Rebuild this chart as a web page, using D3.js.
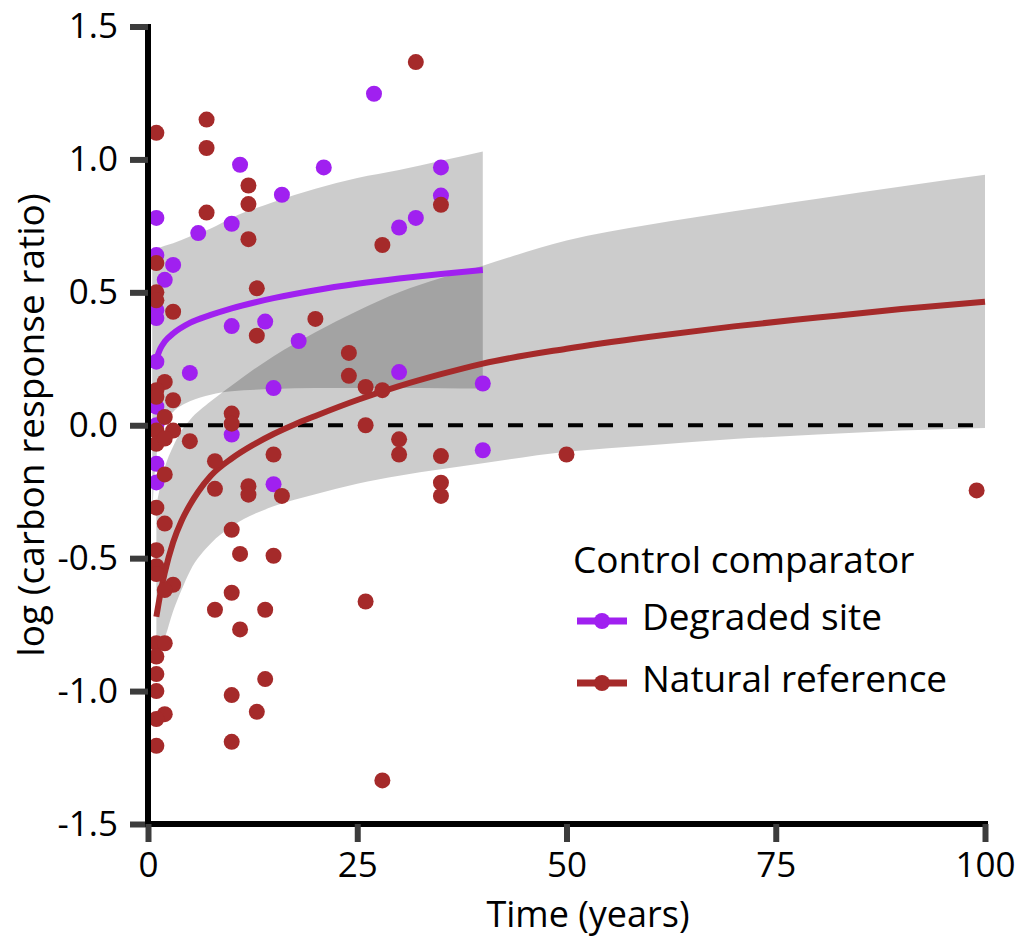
<!DOCTYPE html>
<html><head><meta charset="utf-8">
<script src="https://cdn.jsdelivr.net/npm/d3@7"></script>
<style>
body{margin:0;background:#fff;}
text{font-family:"Open Sans","Noto Sans",sans-serif;fill:#000;}
</style>
</head><body>
<svg id="chart" width="1022" height="937"></svg>
<script>
// ---------- data ----------
const xTicks = [0, 25, 50, 75, 100];
const xTickLabels = ["0", "25", "50", "75", "100"];
const yTicks = [-1.5, -1.0, -0.5, 0.0, 0.5, 1.0, 1.5];
const yTickLabels = ["-1.5", "-1.0", "-0.5", "0.0", "0.5", "1.0", "1.5"];

const seriesNames = ["Degraded site", "Natural reference"];
const seriesColors = ["#A020F0", "#A52A2A"];

// Degraded site observations [years, log ratio]
const degradedPoints = [
  [27, 1.247], [11, 0.98], [21, 0.97], [35, 0.97], [35, 0.864], [32, 0.78], [30, 0.744],
  [16, 0.867], [10, 0.758], [6, 0.723], [1, 0.78], [1, 0.64], [3, 0.603], [2, 0.547],
  [1, 0.433], [1, 0.403], [1, 0.239], [5, 0.197], [10, 0.373], [14, 0.39], [18, 0.317],
  [15, 0.14], [30, 0.2], [40, 0.157], [40, -0.094], [10, -0.035], [15, -0.222],
  [1, -0.145], [1, -0.215], [1, 0.07], [1, 0.0]
];
// Natural reference observations [years, log ratio]
const naturalPoints = [
  [32, 1.366], [7, 1.15], [7, 1.043], [1, 1.1], [12, 0.902], [12, 0.832], [7, 0.8], [12, 0.7],
  [35, 0.829], [28, 0.678], [13, 0.515], [1, 0.61], [1, 0.5], [1, 0.47], [3, 0.427], [13, 0.337],
  [20, 0.4], [24, 0.272], [24, 0.186], [26, 0.144], [28, 0.132], [26, 0.0], [30, -0.053],
  [30, -0.11], [35, -0.116], [35, -0.216], [35, -0.266], [26, -0.663], [28, -1.336],
  [50, -0.11], [99, -0.245],
  [10, 0.044], [10, 0.006], [5, -0.06], [15, -0.11], [8, -0.135], [8, -0.239], [12, -0.229],
  [12, -0.261], [16, -0.266], [10, -0.393], [11, -0.484], [15, -0.491], [10, -0.63], [8, -0.694],
  [14, -0.694], [11, -0.768], [14, -0.955], [10, -1.015], [13, -1.078], [10, -1.191],
  [2, 0.163], [1, 0.132], [3, 0.094], [1, 0.107], [2, 0.031], [1, -0.02], [1, -0.07], [3, -0.02],
  [2, -0.05], [2, -0.185], [1, -0.31], [2, -0.37], [1, -0.47], [1, -0.53], [1, -0.56],
  [3, -0.6], [2, -0.62], [1, -0.82], [2, -0.82], [1, -0.87], [1, -0.936], [1, -1.0],
  [2, -1.087], [1, -1.105], [1, -1.206]
];

// Fitted curves
const degradedFitX = [0.85, 1.5, 2, 3, 5, 7.5, 10, 15, 20, 25, 30, 35, 40];
const degradedFitY = [0.235, 0.29, 0.315, 0.345, 0.385, 0.415, 0.44, 0.478, 0.508, 0.532, 0.552, 0.569, 0.584];
const degradedBandX = [0.5, 0.75, 1, 1.5, 2, 3, 5, 7.5, 10, 15, 20, 25, 30, 35, 40];
const degradedUpper = [0.655, 0.66, 0.665, 0.67, 0.675, 0.685, 0.71, 0.74, 0.78, 0.84, 0.89, 0.93, 0.96, 0.995, 1.03];
const degradedLower = [-0.33, -0.2, -0.12, -0.03, 0.01, 0.05, 0.09, 0.115, 0.128, 0.136, 0.14, 0.14, 0.14, 0.139, 0.138];

const naturalFitX = [1, 1.5, 2, 3, 4, 5, 6, 7.5, 10, 12.5, 15, 17.5, 20, 25, 30, 35, 40, 50, 60, 70, 80, 90, 100];
const naturalFitY = [-0.72, -0.63, -0.555, -0.44, -0.36, -0.3, -0.25, -0.19, -0.125, -0.075, -0.033, 0.003, 0.035, 0.095, 0.147, 0.192, 0.232, 0.288, 0.333, 0.372, 0.405, 0.437, 0.465];
const naturalBandX = [1, 2, 3, 4, 5, 7.5, 10, 15, 20, 25, 30, 40, 50, 60, 70, 80, 90, 100];
const naturalUpper = [-0.3, -0.16, -0.08, -0.02, 0.02, 0.09, 0.15, 0.26, 0.35, 0.43, 0.5, 0.6, 0.695, 0.755, 0.805, 0.852, 0.898, 0.942];
const naturalLower = [-0.86, -0.8, -0.7, -0.62, -0.55, -0.445, -0.38, -0.305, -0.26, -0.22, -0.19, -0.143, -0.1, -0.075, -0.052, -0.035, -0.02, -0.01];

// ---------- drawing ----------
const svg = d3.select("#chart");
const x = d3.scaleLinear().domain([0, 100]).range([148, 985]);
const y = d3.scaleLinear().domain([-1.5, 1.5]).range([824, 26.5]);

const area = d3.area().x(d => x(d[0])).y0(d => y(d[1])).y1(d => y(d[2])).curve(d3.curveMonotoneX);
const line = d3.line().x(d => x(d[0])).y(d => y(d[1])).curve(d3.curveMonotoneX);

const bands = [
  degradedBandX.map((v, i) => [v, degradedLower[i], degradedUpper[i]]),
  naturalBandX.map((v, i) => [v, naturalLower[i], naturalUpper[i]])
];
svg.append("g").selectAll("path").data(bands).join("path")
  .attr("d", area).attr("fill", "#000").attr("fill-opacity", 0.2);

// zero reference line
svg.append("line")
  .attr("x1", x(0)).attr("x2", x(100)).attr("y1", y(0)).attr("y2", y(0))
  .attr("stroke", "#000").attr("stroke-width", 4).attr("stroke-dasharray", "15,15");

// fitted lines
const fits = [
  degradedFitX.map((v, i) => [v, degradedFitY[i]]),
  naturalFitX.map((v, i) => [v, naturalFitY[i]])
];
svg.append("g").selectAll("path").data(fits).join("path")
  .attr("d", line).attr("fill", "none")
  .attr("stroke", (d, i) => seriesColors[i]).attr("stroke-width", 6);

// points
[degradedPoints, naturalPoints].forEach((pts, i) => {
  svg.append("g").selectAll("circle").data(pts).join("circle")
    .attr("cx", d => x(d[0])).attr("cy", d => y(d[1])).attr("r", 8)
    .attr("fill", seriesColors[i]);
});

// axes
const yAxis = d3.axisLeft(y).tickValues(yTicks).tickFormat((d, i) => yTickLabels[i])
  .tickSize(18).tickSizeOuter(0).tickPadding(12);
const xAxis = d3.axisBottom(x).tickValues(xTicks).tickFormat((d, i) => xTickLabels[i])
  .tickSize(18).tickSizeOuter(0).tickPadding(10);

const gy = svg.append("g").attr("transform", "translate(148,0)").call(yAxis);
const gx = svg.append("g").attr("transform", "translate(0,824)").call(xAxis);
[gx, gy].forEach(g => {
  g.select(".domain").attr("stroke", "#000").attr("stroke-width", 6);
  g.selectAll(".tick line").attr("stroke", "#3c3c3c").attr("stroke-width", 6);
  g.selectAll(".tick text").attr("font-size", 35).attr("fill", "#000")
    .style("font-family", '"Open Sans","Noto Sans",sans-serif');
});
gy.select(".domain").attr("d", "M0,827V24");
gx.select(".domain").attr("d", "M145,0H988");

// axis titles
svg.append("text").attr("x", 588).attr("y", 927).attr("text-anchor", "middle")
  .attr("font-size", 36).text("Time (years)");
svg.append("text").attr("transform", "translate(44,425) rotate(-90)")
  .attr("text-anchor", "middle").attr("font-size", 37).text("log (carbon response ratio)");

// legend
const leg = svg.append("g");
leg.append("text").attr("x", 573).attr("y", 573).attr("font-size", 37).text("Control comparator");
const legY = [621, 683];
seriesNames.forEach((name, i) => {
  leg.append("line").attr("x1", 577).attr("x2", 627).attr("y1", legY[i]).attr("y2", legY[i])
    .attr("stroke", seriesColors[i]).attr("stroke-width", 7);
  leg.append("circle").attr("cx", 602).attr("cy", legY[i]).attr("r", 8).attr("fill", seriesColors[i]);
  leg.append("text").attr("x", 642).attr("y", legY[i] + 9).attr("font-size", 37).text(name);
});
</script>
</body></html>
